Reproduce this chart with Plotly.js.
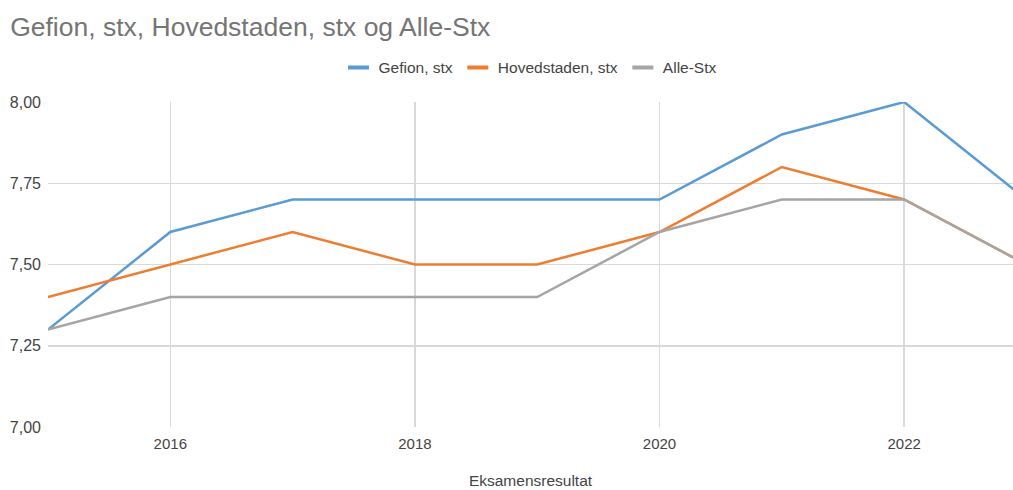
<!DOCTYPE html>
<html>
<head>
<meta charset="utf-8">
<script src="https://cdn.plot.ly/plotly-3.0.1.min.js"></script>
<style>html,body{margin:0;padding:0;background:#fff;}#chart{width:1013px;height:490px;}</style>
</head>
<body>
<div id="chart"></div>
<script>
const years = [2015, 2016, 2017, 2018, 2019, 2020, 2021, 2022, 2023];
const gefion = [7.3, 7.6, 7.7, 7.7, 7.7, 7.7, 7.9, 8.0, 7.7];
const hovedstaden = [7.4, 7.5, 7.6, 7.5, 7.5, 7.6, 7.8, 7.7, 7.5];
const alleStx = [7.3, 7.4, 7.4, 7.4, 7.4, 7.6, 7.7, 7.7, 7.5];
const seriesNames = ["Gefion, stx", "Hovedstaden, stx", "Alle-Stx"];
const seriesColors = ["#5b9bd5", "#ed7d31", "#a5a5a5"];
const yTicks = [7.0, 7.25, 7.5, 7.75, 8.0];
const xTicks = [2016, 2018, 2020, 2022];

const font = "Arial, 'Liberation Sans', sans-serif";
const series = [gefion, hovedstaden, alleStx];
const traces = [];
series.forEach((ys, i) => {
  traces.push({type: "scatter", mode: "lines", x: years, y: ys, name: seriesNames[i],
    line: {color: seriesColors[i], width: 2.5}, hoverinfo: "skip", showlegend: false});
});
series.forEach((ys, i) => {
  traces.push({type: "scatter", mode: "markers", x: [null], y: [null], name: seriesNames[i],
    marker: {symbol: "line-ew", size: 15, color: seriesColors[i], line: {color: seriesColors[i], width: 4}},
    hoverinfo: "skip", showlegend: true});
});

const layout = {
  width: 1013, height: 490,
  margin: {l: 48, r: 0, t: 102, b: 63},
  paper_bgcolor: "#fff", plot_bgcolor: "#fff",
  separators: ", ",
  font: {family: font, size: 15, color: "#444"},
  title: {text: "Gefion, stx, Hovedstaden, stx og Alle-Stx", x: 0.01, xref: "container", xanchor: "left",
          y: 0.945, yref: "container", yanchor: "middle",
          font: {family: font, size: 26.5, color: "#757575"}},
  showlegend: true,
  legend: {orientation: "h", x: 0.5, xanchor: "center", y: 1.105, yanchor: "middle",
           font: {family: font, size: 15.5, color: "#444"}, itemwidth: 30},
  xaxis: {range: [2015, 2022.89], tickvals: xTicks, ticktext: xTicks.map(String),
          showgrid: true, gridcolor: "#d9d9d9", gridwidth: 1.5, zeroline: false, showline: false,
          ticks: "", ticklabelstandoff: 6, tickfont: {family: font, size: 15, color: "#444"},
          title: {text: "Eksamensresultat", standoff: 24, font: {family: font, size: 15.5, color: "#444"}}},
  yaxis: {range: [7.0, 8.0], tickvals: yTicks, tickformat: ".2f",
          showgrid: true, gridcolor: "#d9d9d9", gridwidth: 1.5, zeroline: false, showline: false,
          ticks: "", ticklabelstandoff: 6, tickfont: {family: font, size: 16, color: "#444"}}
};
Plotly.newPlot("chart", traces, layout, {displayModeBar: false, staticPlot: true});
</script>
</body>
</html>
